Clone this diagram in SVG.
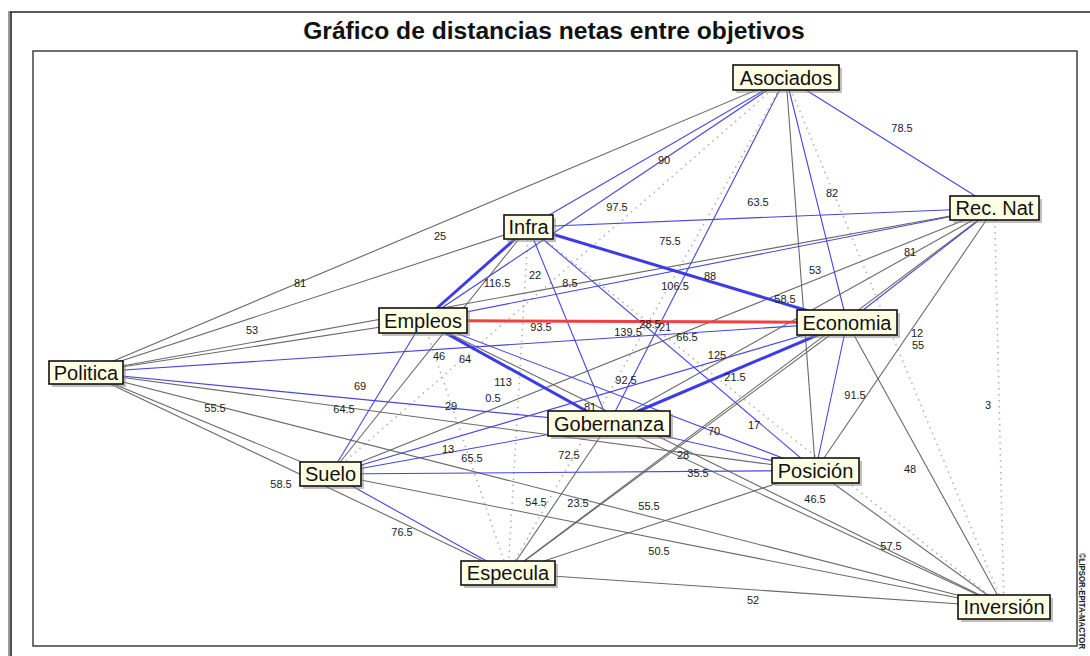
<svg xmlns="http://www.w3.org/2000/svg" width="1090" height="656" viewBox="0 0 1090 656">
<style>
  .g{stroke:#6a6a6a;stroke-width:1.1;fill:none}
  .b{stroke:#4646e0;stroke-width:1.1;fill:none}
  .B{stroke:#3c3ce6;stroke-width:3;fill:none}
  .r{stroke:#f04040;stroke-width:3;fill:none}
  .d{stroke:#b4b4a8;stroke-width:1.6;stroke-dasharray:1.5 4.5;fill:none}
  .lbl{font-family:"Liberation Sans",Arial,sans-serif;font-size:11px;fill:#1a1a1a;text-anchor:middle}
  .box{fill:#ffffe4;stroke:#111;stroke-width:1.6}
  .sh{fill:#8c8c8c;opacity:0.55}
  .nt{font-family:"Liberation Sans",Arial,sans-serif;font-size:20px;fill:#111;text-anchor:middle}
  .title{font-family:"Liberation Sans",Arial,sans-serif;font-size:24.6px;font-weight:bold;fill:#111;text-anchor:middle}
</style>
<rect x="0" y="0" width="1090" height="656" fill="#ffffff"/>
<g id="frame">
  <line x1="9" y1="11" x2="9" y2="656" stroke="#9a9a9a" stroke-width="2"/>
  <line x1="11" y1="12" x2="11" y2="656" stroke="#222" stroke-width="1.6"/>
  <line x1="10" y1="12" x2="1090" y2="12" stroke="#222" stroke-width="1.6"/>
  <rect x="33" y="51" width="1044" height="595" fill="none" stroke="#333" stroke-width="1.4"/>
  <text class="title" x="554" y="39">Gráfico de distancias netas entre objetivos</text>
  <text x="1079" y="553" transform="rotate(90 1079 553)" font-family="'Liberation Sans',Arial,sans-serif" font-size="9.5px" font-weight="bold" fill="#222" textLength="96" lengthAdjust="spacingAndGlyphs">©LIPSOR-EPITA-MACTOR</text>
</g>
<g id="connectors">
  <line class="d" x1="786" y1="77.5" x2="330.5" y2="474"/>
  <line class="d" x1="786" y1="77.5" x2="508" y2="573"/>
  <line class="d" x1="786" y1="77.5" x2="1004" y2="607"/>
  <line class="d" x1="994.5" y1="208" x2="1004" y2="607"/>
  <line class="d" x1="528.5" y1="227" x2="508" y2="573"/>
  <line class="d" x1="528.5" y1="227" x2="1004" y2="607"/>
  <line class="d" x1="423" y1="320.5" x2="508" y2="573"/>
  <line class="g" x1="786" y1="77.5" x2="86" y2="372.5"/>
  <line class="g" x1="786" y1="77.5" x2="815.5" y2="470.5"/>
  <line class="g" x1="994.5" y1="208" x2="86" y2="372.5"/>
  <line class="g" x1="994.5" y1="208" x2="609" y2="423.5"/>
  <line class="g" x1="994.5" y1="208" x2="330.5" y2="474"/>
  <line class="g" x1="994.5" y1="208" x2="815.5" y2="470.5"/>
  <line class="g" x1="994.5" y1="208" x2="508" y2="573"/>
  <line class="g" x1="528.5" y1="227" x2="86" y2="372.5"/>
  <line class="g" x1="528.5" y1="227" x2="330.5" y2="474"/>
  <line class="g" x1="423" y1="320.5" x2="86" y2="372.5"/>
  <line class="g" x1="423" y1="320.5" x2="1004" y2="607"/>
  <line class="g" x1="847" y1="322.5" x2="508" y2="573"/>
  <line class="g" x1="847" y1="322.5" x2="1004" y2="607"/>
  <line class="g" x1="86" y1="372.5" x2="330.5" y2="474"/>
  <line class="g" x1="86" y1="372.5" x2="815.5" y2="470.5"/>
  <line class="g" x1="86" y1="372.5" x2="508" y2="573"/>
  <line class="g" x1="86" y1="372.5" x2="1004" y2="607"/>
  <line class="g" x1="609" y1="423.5" x2="508" y2="573"/>
  <line class="g" x1="609" y1="423.5" x2="1004" y2="607"/>
  <line class="g" x1="330.5" y1="474" x2="1004" y2="607"/>
  <line class="g" x1="815.5" y1="470.5" x2="508" y2="573"/>
  <line class="g" x1="815.5" y1="470.5" x2="1004" y2="607"/>
  <line class="g" x1="508" y1="573" x2="1004" y2="607"/>
  <line class="b" x1="786" y1="77.5" x2="994.5" y2="208"/>
  <line class="b" x1="786" y1="77.5" x2="528.5" y2="227"/>
  <line class="b" x1="786" y1="77.5" x2="423" y2="320.5"/>
  <line class="b" x1="786" y1="77.5" x2="847" y2="322.5"/>
  <line class="b" x1="786" y1="77.5" x2="609" y2="423.5"/>
  <line class="b" x1="994.5" y1="208" x2="528.5" y2="227"/>
  <line class="b" x1="994.5" y1="208" x2="423" y2="320.5"/>
  <line class="b" x1="994.5" y1="208" x2="847" y2="322.5"/>
  <line class="b" x1="528.5" y1="227" x2="609" y2="423.5"/>
  <line class="b" x1="528.5" y1="227" x2="815.5" y2="470.5"/>
  <line class="b" x1="423" y1="320.5" x2="330.5" y2="474"/>
  <line class="b" x1="423" y1="320.5" x2="815.5" y2="470.5"/>
  <line class="b" x1="847" y1="322.5" x2="86" y2="372.5"/>
  <line class="b" x1="847" y1="322.5" x2="330.5" y2="474"/>
  <line class="b" x1="847" y1="322.5" x2="815.5" y2="470.5"/>
  <line class="b" x1="86" y1="372.5" x2="609" y2="423.5"/>
  <line class="b" x1="609" y1="423.5" x2="330.5" y2="474"/>
  <line class="b" x1="609" y1="423.5" x2="815.5" y2="470.5"/>
  <line class="b" x1="330.5" y1="474" x2="815.5" y2="470.5"/>
  <line class="b" x1="330.5" y1="474" x2="508" y2="573"/>
  <line class="B" x1="528.5" y1="227" x2="423" y2="320.5"/>
  <line class="B" x1="528.5" y1="227" x2="847" y2="322.5"/>
  <line class="B" x1="423" y1="320.5" x2="609" y2="423.5"/>
  <line class="B" x1="847" y1="322.5" x2="609" y2="423.5"/>
  <line class="r" x1="423" y1="320.5" x2="847" y2="322.5"/>
  <text class="lbl" x="902" y="132">78.5</text>
  <text class="lbl" x="664" y="164">90</text>
  <text class="lbl" x="617" y="211">97.5</text>
  <text class="lbl" x="758" y="206">63.5</text>
  <text class="lbl" x="832" y="197">82</text>
  <text class="lbl" x="440" y="240">25</text>
  <text class="lbl" x="300" y="287">81</text>
  <text class="lbl" x="252" y="334">53</text>
  <text class="lbl" x="670" y="245">75.5</text>
  <text class="lbl" x="497" y="287">116.5</text>
  <text class="lbl" x="535" y="279">22</text>
  <text class="lbl" x="570" y="287">8.5</text>
  <text class="lbl" x="675" y="290">106.5</text>
  <text class="lbl" x="710" y="280">88</text>
  <text class="lbl" x="785" y="303">58.5</text>
  <text class="lbl" x="815" y="274">53</text>
  <text class="lbl" x="910" y="256">81</text>
  <text class="lbl" x="541" y="331">93.5</text>
  <text class="lbl" x="628" y="336">139.5</text>
  <text class="lbl" x="650" y="328">28.5</text>
  <text class="lbl" x="665" y="331">21</text>
  <text class="lbl" x="687" y="341">66.5</text>
  <text class="lbl" x="917" y="337">12</text>
  <text class="lbl" x="918" y="349">55</text>
  <text class="lbl" x="717" y="359">125</text>
  <text class="lbl" x="735" y="381">21.5</text>
  <text class="lbl" x="439" y="360">46</text>
  <text class="lbl" x="465" y="363">64</text>
  <text class="lbl" x="503" y="386">113</text>
  <text class="lbl" x="626" y="384">92.5</text>
  <text class="lbl" x="493" y="402">0.5</text>
  <text class="lbl" x="451" y="410">29</text>
  <text class="lbl" x="590" y="411">81</text>
  <text class="lbl" x="714" y="435">70</text>
  <text class="lbl" x="754" y="429">17</text>
  <text class="lbl" x="855" y="399">91.5</text>
  <text class="lbl" x="988" y="409">3</text>
  <text class="lbl" x="360" y="390">69</text>
  <text class="lbl" x="344" y="413">64.5</text>
  <text class="lbl" x="215" y="412">55.5</text>
  <text class="lbl" x="448" y="453">13</text>
  <text class="lbl" x="472" y="462">65.5</text>
  <text class="lbl" x="569" y="459">72.5</text>
  <text class="lbl" x="683" y="459">28</text>
  <text class="lbl" x="698" y="477">35.5</text>
  <text class="lbl" x="910" y="473">48</text>
  <text class="lbl" x="281" y="488">58.5</text>
  <text class="lbl" x="536" y="506">54.5</text>
  <text class="lbl" x="578" y="507">23.5</text>
  <text class="lbl" x="649" y="510">55.5</text>
  <text class="lbl" x="815" y="503">46.5</text>
  <text class="lbl" x="402" y="536">76.5</text>
  <text class="lbl" x="659" y="555">50.5</text>
  <text class="lbl" x="891" y="550">57.5</text>
  <text class="lbl" x="753" y="604">52</text>
</g>
<g id="node-asociados"><rect class="sh" x="736" y="68" width="106" height="25"/><rect class="box" x="733" y="65" width="106" height="25"/><text class="nt" x="786" y="84.5">Asociados</text></g>
<g id="node-recnat"><rect class="sh" x="953" y="199" width="89" height="24"/><rect class="box" x="950" y="196" width="89" height="24"/><text class="nt" x="994.5" y="215">Rec. Nat</text></g>
<g id="node-infra"><rect class="sh" x="507" y="218" width="49" height="24"/><rect class="box" x="504" y="215" width="49" height="24"/><text class="nt" x="528.5" y="234">Infra</text></g>
<g id="node-empleos"><rect class="sh" x="382" y="311" width="88" height="25"/><rect class="box" x="379" y="308" width="88" height="25"/><text class="nt" x="423" y="327.5">Empleos</text></g>
<g id="node-economia"><rect class="sh" x="800" y="313" width="100" height="25"/><rect class="box" x="797" y="310" width="100" height="25"/><text class="nt" x="847" y="329.5">Economia</text></g>
<g id="node-politica"><rect class="sh" x="52" y="364" width="74" height="23"/><rect class="box" x="49" y="361" width="74" height="23"/><text class="nt" x="86" y="379.5">Politica</text></g>
<g id="node-gobernanza"><rect class="sh" x="551" y="414" width="122" height="25"/><rect class="box" x="548" y="411" width="122" height="25"/><text class="nt" x="609" y="430.5">Gobernanza</text></g>
<g id="node-suelo"><rect class="sh" x="303" y="465" width="61" height="24"/><rect class="box" x="300" y="462" width="61" height="24"/><text class="nt" x="330.5" y="481">Suelo</text></g>
<g id="node-posicion"><rect class="sh" x="775" y="461" width="87" height="25"/><rect class="box" x="772" y="458" width="87" height="25"/><text class="nt" x="815.5" y="477.5">Posición</text></g>
<g id="node-especula"><rect class="sh" x="464" y="564" width="94" height="24"/><rect class="box" x="461" y="561" width="94" height="24"/><text class="nt" x="508" y="580">Especula</text></g>
<g id="node-inversion"><rect class="sh" x="961" y="598" width="92" height="24"/><rect class="box" x="958" y="595" width="92" height="24"/><text class="nt" x="1004" y="614">Inversión</text></g>
</svg>
